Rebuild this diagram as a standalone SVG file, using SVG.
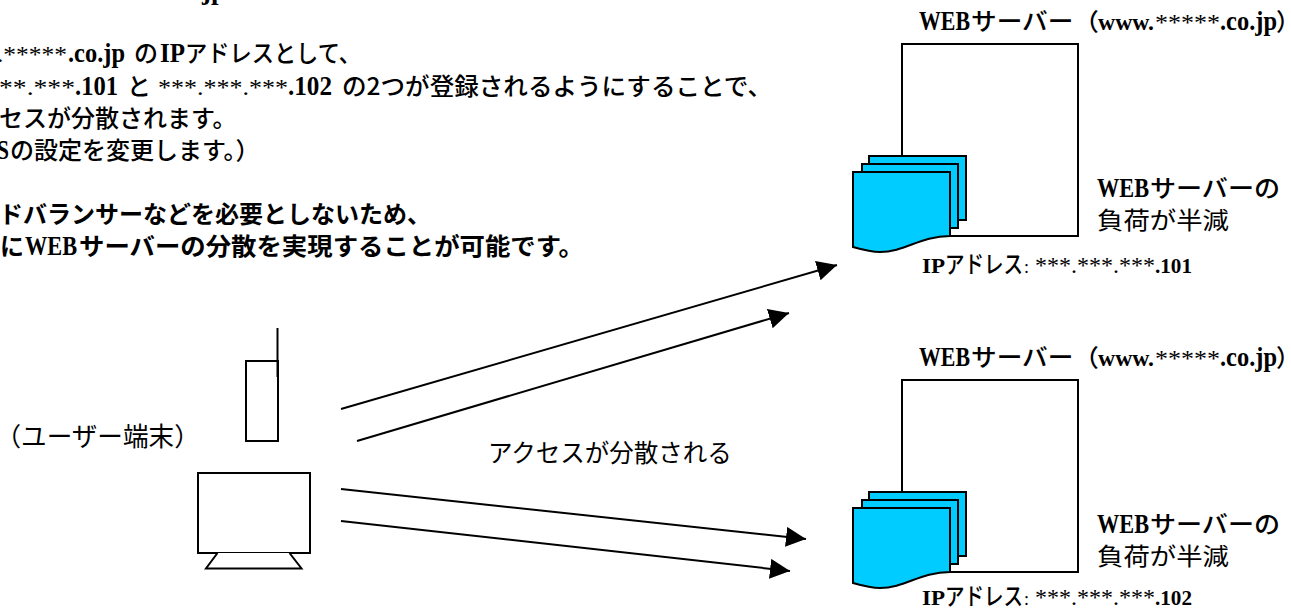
<svg xmlns="http://www.w3.org/2000/svg" width="1291" height="610" viewBox="0 0 1291 610">
<style>
text{font-family:"Liberation Serif","Noto Sans CJK JP",serif;fill:#000;font-size:24px;font-weight:700}
.j{font-family:"Noto Sans CJK JP","Liberation Sans",sans-serif;font-weight:500}
.h{font-family:"Noto Sans CJK JP","Liberation Sans",sans-serif;font-weight:700}
.n{font-family:"Noto Sans CJK JP","Liberation Sans",sans-serif;font-weight:400}
.a{font-weight:400}
.l{font-size:27px}
.p{font-size:22px}
.s{fill:#fff;stroke:#000;stroke-width:2}
.d{fill:#00ccff;stroke:#000;stroke-width:2}
.c{stroke:#000;stroke-width:2;fill:none;marker-end:url(#a)}
</style>
<defs>
<marker id="a" markerUnits="userSpaceOnUse" markerWidth="22" markerHeight="22" refX="20" refY="10" orient="auto"><path d="M0 0L20 10L0 20Z" fill="#000"/></marker>
<g id="docs">
<rect class="d" x="39" y="156" width="97" height="64"/>
<rect class="d" x="32" y="164" width="96" height="64"/>
<path class="d" d="M23 172H120V236C90 236 75 252 50 252C40 252 30 249 23 247Z"/>
</g>
</defs>
<g id="intro">
<text class="l" x="202" y="-1">jp</text>
<text y="62"><tspan class="a" x="-3" textLength="70" lengthAdjust="spacingAndGlyphs">.*****</tspan><tspan class="l" x="68" textLength="57" lengthAdjust="spacingAndGlyphs">.co.jp</tspan><tspan class="j" x="134">の</tspan><tspan class="l" x="160" textLength="25" lengthAdjust="spacingAndGlyphs">IP</tspan><tspan class="j" x="185" textLength="176" lengthAdjust="spacingAndGlyphs">アドレスとして、</tspan></text>
<text y="95"><tspan class="a" x="-1" textLength="76" lengthAdjust="spacingAndGlyphs">**.***</tspan><tspan class="l" x="75" textLength="43" lengthAdjust="spacingAndGlyphs">.101</tspan><tspan class="j" x="127">と</tspan><tspan class="a" x="158" textLength="130" lengthAdjust="spacingAndGlyphs">***.***.***</tspan><tspan class="l" x="288" textLength="44" lengthAdjust="spacingAndGlyphs">.102</tspan><tspan class="j" x="342" textLength="430" lengthAdjust="spacingAndGlyphs">の2つが登録されるようにすることで、</tspan></text>
<text class="j" x="-1" y="127">セスが分散されます。</text>
<text y="159"><tspan class="l" x="-3" textLength="12" lengthAdjust="spacingAndGlyphs">S</tspan><tspan class="j" x="10">の設定を変更します。）</tspan></text>
<text class="h" x="-1" y="223">ドバランサーなどを必要としないため、</text>
<text y="255"><tspan class="h" x="0">に</tspan><tspan class="l" x="25" textLength="52" lengthAdjust="spacingAndGlyphs">WEB</tspan><tspan class="h" x="79" textLength="505" lengthAdjust="spacingAndGlyphs">サーバーの分散を実現することが可能です。</tspan></text>
</g>
<g id="server1">
<rect class="s" x="902" y="44" width="176" height="192"/>
<use href="#docs" x="830" y="0"/>
<text y="30"><tspan class="l" x="919" textLength="51" lengthAdjust="spacingAndGlyphs">WEB</tspan><tspan class="j" x="971" textLength="128" lengthAdjust="spacingAndGlyphs">サーバー（</tspan><tspan x="1098" textLength="56" lengthAdjust="spacingAndGlyphs">www.</tspan><tspan class="a" x="1155" textLength="65" lengthAdjust="spacingAndGlyphs">*****</tspan><tspan class="l" x="1220" textLength="57" lengthAdjust="spacingAndGlyphs">.co.jp</tspan><tspan class="j" x="1276">）</tspan></text>
<text y="197"><tspan class="l" x="1097" textLength="52" lengthAdjust="spacingAndGlyphs">WEB</tspan><tspan class="j" x="1150" textLength="130" lengthAdjust="spacingAndGlyphs">サーバーの</tspan></text>
<text class="n" x="1097" y="229" textLength="132" lengthAdjust="spacingAndGlyphs">負荷が半減</text>
<text y="273"><tspan class="p" x="922" textLength="23" lengthAdjust="spacingAndGlyphs">IP</tspan><tspan class="j" x="945" textLength="78" lengthAdjust="spacingAndGlyphs">アドレス</tspan><tspan class="a" x="1024" style="font-size:18px">:</tspan><tspan class="a" x="1035" textLength="120" lengthAdjust="spacingAndGlyphs">***.***.***</tspan><tspan class="p" x="1155" textLength="37" lengthAdjust="spacingAndGlyphs">.101</tspan></text>
</g>
<g id="server2">
<rect class="s" x="902" y="380" width="176" height="192"/>
<use href="#docs" x="830" y="336"/>
<text y="366"><tspan class="l" x="919" textLength="51" lengthAdjust="spacingAndGlyphs">WEB</tspan><tspan class="j" x="971" textLength="128" lengthAdjust="spacingAndGlyphs">サーバー（</tspan><tspan x="1098" textLength="56" lengthAdjust="spacingAndGlyphs">www.</tspan><tspan class="a" x="1155" textLength="65" lengthAdjust="spacingAndGlyphs">*****</tspan><tspan class="l" x="1220" textLength="57" lengthAdjust="spacingAndGlyphs">.co.jp</tspan><tspan class="j" x="1276">）</tspan></text>
<text y="533"><tspan class="l" x="1097" textLength="52" lengthAdjust="spacingAndGlyphs">WEB</tspan><tspan class="j" x="1150" textLength="130" lengthAdjust="spacingAndGlyphs">サーバーの</tspan></text>
<text class="n" x="1097" y="565" textLength="132" lengthAdjust="spacingAndGlyphs">負荷が半減</text>
<text y="605"><tspan class="p" x="922" textLength="23" lengthAdjust="spacingAndGlyphs">IP</tspan><tspan class="j" x="945" textLength="78" lengthAdjust="spacingAndGlyphs">アドレス</tspan><tspan class="a" x="1024" style="font-size:18px">:</tspan><tspan class="a" x="1035" textLength="120" lengthAdjust="spacingAndGlyphs">***.***.***</tspan><tspan class="p" x="1155" textLength="37" lengthAdjust="spacingAndGlyphs">.102</tspan></text>
</g>
<g id="phone"><rect class="s" x="246" y="361" width="32" height="80"/><path class="s" d="M277.500 328V377"/></g>
<g id="pc"><rect class="s" x="198" y="473" width="112" height="80"/><path class="s" d="M217.500 553L206 568.500H301.500L289.500 553"/></g>
<text class="n" x="-4.500" y="446" style="font-size:25.600px">（ユーザー端末）</text>
<text class="n" x="488" y="462" style="font-size:24.500px">アクセスが分散される</text>
<g id="connectors">
<path class="c" d="M341 409L837 265"/>
<path class="c" d="M357 441L789 313"/>
<path class="c" d="M341 489L806 539"/>
<path class="c" d="M341 521L790 571"/>
</g>
</svg>
